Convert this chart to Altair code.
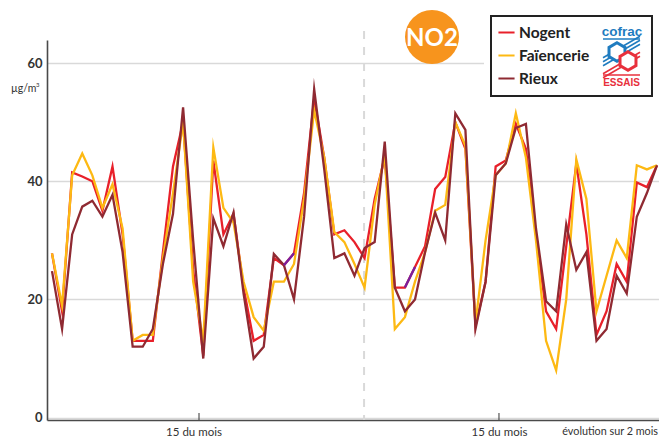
import altair as alt
import pandas as pd

nogent = [27.8,18,41.5,40.8,40,35,42.5,31,13,13,13,28,42.5,50,25,10.5,43.5,31,34.5,22,13,14,27,25.8,27.8,38,54,44,31,31.7,29.7,27,37,44,22,22,25.5,29,38.7,40.7,50,45.5,15.5,23,42.5,43.5,49.7,45.5,31,18,15,29,43,31,14,18,26,23,39.8,39,42.7]
faiencerie = [27.8,19,41,44.7,41,35.5,39.5,32,13,14,14,27,38,50,23,13,45.7,35.5,33,23,17,14.7,23,23,26,37,52,44,31.4,29.7,26,22,36,44.5,15,17,23,28,35,36,50,46,16,30,41,43,51.5,44,30,13,8,20,43.7,37,18,24,30,27,42.7,42,42.7]
rieux = [24.8,15,31,35.7,36.7,34,37.7,28,12,12,15,26,34.5,52.5,30,10,33.7,29,34.7,21,10,12,27.7,25.8,20,34,55.6,42,27,27.8,24,28.7,29.7,46.7,22,18,20,28,34.7,30,51.5,48.7,15,23,41,43,49,49.7,32,19.7,18,32.7,25,28,13,15,24,21,34,38,42.7]
series_names = ["Nogent", "Faïencerie", "Rieux"]
series_colors = ["#e8202a", "#fdb913", "#8f2a32"]
violet_a = [(23, 25.8), (24, 27.8)]
violet_b = [(35, 22), (36, 25.5)]
tick_positions = [14.58, 44.33]

rows = []
for name, vals in zip(series_names, [nogent, faiencerie, rieux]):
    rows += [{"i": i, "v": v, "s": name} for i, v in enumerate(vals)]
df = pd.DataFrame(rows)

FONT = "Lato"
x_scale = alt.Scale(domain=[-0.496, 60.2], nice=False, zero=False)
y_scale = alt.Scale(domain=[-0.4, 63.9], nice=False, zero=False)

base = alt.Chart(df)

lines = base.mark_line(strokeWidth=2.3, strokeJoin="miter", strokeMiterLimit=10).encode(
    x=alt.X("i:Q", scale=x_scale, axis=alt.Axis(title=None, values=[], ticks=False, labels=False, grid=False,
                                               domainColor="#4a4a4a", domainWidth=1.6)),
    y=alt.Y("v:Q", scale=y_scale, axis=alt.Axis(title=None, values=[0, 20, 40, 60], ticks=False, grid=True,
                                               gridColor="#d9d9d9", gridWidth=1.5,
                                               domainColor="#4a4a4a", domainWidth=1.6,
                                               labelFont=FONT, labelFontSize=13, labelFontWeight="bold",
                                               labelColor="#333333", labelPadding=5)),
    color=alt.Color("s:N", sort=series_names, scale=alt.Scale(domain=series_names, range=series_colors),
                    legend=alt.Legend(title=None, orient="none", legendX=450, legendY=-17,
                                      symbolType="stroke", symbolStrokeWidth=2, symbolSize=260,
                                      labelFont=FONT, labelFontSize=15.5, labelFontWeight="bold",
                                      labelColor="#222222", labelOffset=3, rowPadding=5,
                                      padding=0)),
)


def violet(seg):
    d = pd.DataFrame(seg, columns=["i", "v"])
    return alt.Chart(d).mark_line(color="#7a1f9e", strokeWidth=2.3).encode(
        x=alt.X("i:Q", scale=x_scale), y=alt.Y("v:Q", scale=y_scale))


dash = alt.Chart(pd.DataFrame({"i": [30.95]})).mark_rule(
    color="#d9d9d9", strokeWidth=2, strokeDash=[8, 8]
).encode(x=alt.X("i:Q", scale=x_scale), y=alt.value(-9), y2=alt.value(380))

ticks = alt.Chart(pd.DataFrame({"i": tick_positions})).mark_rule(color="#333333", strokeWidth=1).encode(
    x=alt.X("i:Q", scale=x_scale), y=alt.value(373), y2=alt.value(380))


def label(text, px, py, size=11.5, color="#333333", weight="normal", align="center", font=FONT):
    return alt.Chart(pd.DataFrame({"t": [text]})).mark_text(
        font=font, fontSize=size, color=color, fontWeight=weight, align=align, baseline="alphabetic"
    ).encode(x=alt.value(px), y=alt.value(py), text="t:N")


def shape(path, px, py, size, fill=None, stroke=None, sw=2):
    props = dict(shape=path, size=size, filled=fill is not None, opacity=1)
    if fill is not None:
        props["fill"] = fill
    if stroke is not None:
        props["stroke"] = stroke
        props["strokeWidth"] = sw
    return alt.Chart(pd.DataFrame({"a": [0]})).mark_point(**props).encode(x=alt.value(px), y=alt.value(py))


box = alt.Chart(pd.DataFrame({"a": [0]})).mark_rect(fill="white", stroke="#222222", strokeWidth=2).encode(
    x=alt.value(444), x2=alt.value(605), y=alt.value(-24), y2=alt.value(56))
box_halo = alt.Chart(pd.DataFrame({"a": [0]})).mark_rect(fill="white").encode(
    x=alt.value(437), x2=alt.value(612), y=alt.value(-26), y2=alt.value(58))
badge = alt.Chart(pd.DataFrame({"a": [0]})).mark_point(shape="circle", size=2916, filled=True, fill="#f7941d", opacity=1).encode(
    x=alt.value(385), y=alt.value(-3))
badge_txt = label("NO2", 385, 6, size=24, color="white", weight="bold")

HEX = "M0,-1L0.866,-0.5L0.866,0.5L0,1L-0.866,0.5L-0.866,-0.5Z"
BAR = "M-1,0L1,0"
STRIPE = "M-1,0.58L1,-0.58"
BLUE = "#1f7cc0"
RED = "#e8303c"
logo = [
    label("cofrac", 575, -4, size=13.5, color=BLUE, weight="bold", font="Liberation Sans"),
    shape(BAR, 574.5, -1, 1369, stroke=BLUE, sw=1.6),
    shape(STRIPE, 574.5, 7, 1369, stroke=BLUE, sw=1.6),
    shape(STRIPE, 574.5, 11, 1369, stroke=BLUE, sw=1.6),
    shape(STRIPE, 574.5, 15, 1369, stroke=BLUE, sw=1.6),
    shape(STRIPE, 574.5, 23, 1369, stroke=RED, sw=1.6),
    shape(STRIPE, 574.5, 27, 1369, stroke=RED, sw=1.6),
    shape(HEX, 570, 12, 340, fill="white", stroke=BLUE, sw=3),
    shape(HEX, 581, 21, 340, fill="white", stroke=RED, sw=3),
    shape(BAR, 574.5, 35, 1369, stroke=RED, sw=1.6),
    label("ESSAIS", 574.5, 46, size=10, color=RED, weight="bold", font="Liberation Sans"),
]

chart = alt.layer(
    dash, lines, violet(violet_a), violet(violet_b), ticks,
    box_halo, box, badge, badge_txt,
    label("µg/m", -36, 52, size=10.5, align="left"),
    label("3", -11, 47, size=6, align="left"),
    label("15 du mois", 147, 396),
    label("15 du mois", 452.5, 396),
    label("évolution sur 2 mois", 611, 395, size=10.8, align="right"),
    *logo,
).resolve_scale(color="independent").properties(
    width=612, height=380,
    autosize=alt.AutoSizeParams(type="none"),
    padding={"left": 39, "top": 32, "right": 0, "bottom": 17},
).configure_view(stroke=None)

chart.save("out.html", embed_options={"renderer": "svg", "actions": False})
